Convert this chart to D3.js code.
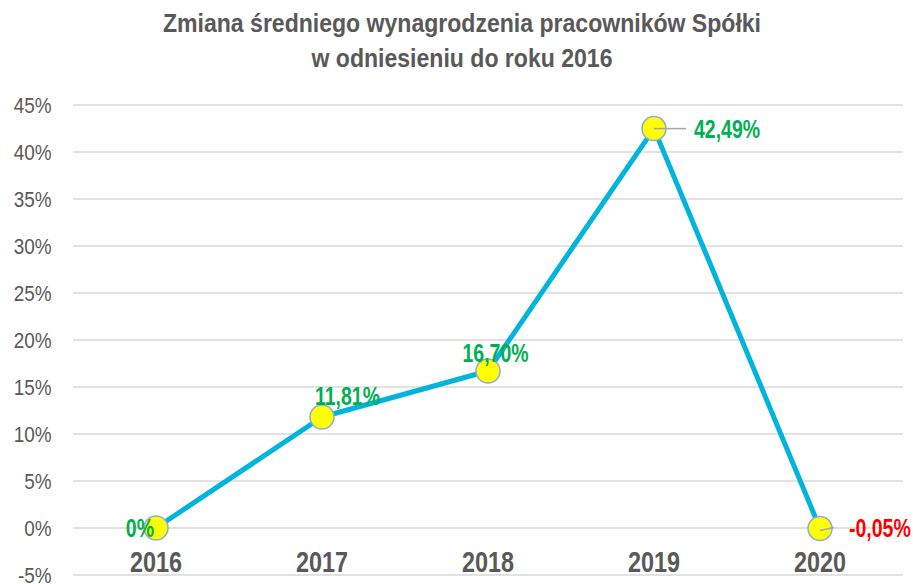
<!DOCTYPE html>
<html lang="pl">
<head>
<meta charset="UTF-8">
<title>Zmiana średniego wynagrodzenia</title>
<script src="https://d3js.org/d3.v7.min.js"></script>
<style>
  body { margin: 0; background: #fff; }
  text { font-family: "Liberation Sans", Arial, sans-serif; }
</style>
</head>
<body>
<svg width="913" height="584"></svg>
<script>
// data
var years = ["2016", "2017", "2018", "2019", "2020"];
var values = [0, 0.1181, 0.1670, 0.4249, -0.0005];
var labels = ["0%", "11,81%", "16,70%", "42,49%", "-0,05%"];
var yTicks = [-0.05, 0, 0.05, 0.10, 0.15, 0.20, 0.25, 0.30, 0.35, 0.40, 0.45];

var svg = d3.select("svg");

var x = d3.scaleBand().domain(years).range([73, 903]);
var y = d3.scaleLinear().domain([-0.05, 0.45]).range([575, 105]);

// text in the original is a bit condensed, so squeeze it horizontally
function squeezed(parent, px, py, sx) {
    return parent.append("text")
        .attr("transform", "translate(" + px + "," + py + ") scale(" + sx + ",1)");
}

// title
squeezed(svg, 462, 32, 0.87)
    .attr("text-anchor", "middle")
    .attr("font-size", "26.5px")
    .attr("font-weight", "bold")
    .attr("fill", "#595959")
    .text("Zmiana średniego wynagrodzenia pracowników Spółki");
squeezed(svg, 462, 67, 0.87)
    .attr("text-anchor", "middle")
    .attr("font-size", "26.5px")
    .attr("font-weight", "bold")
    .attr("fill", "#595959")
    .text("w odniesieniu do roku 2016");

// gridlines
svg.append("g").selectAll("line")
    .data(yTicks)
    .enter().append("line")
    .attr("x1", 73).attr("x2", 903)
    .attr("y1", function(d) { return y(d); })
    .attr("y2", function(d) { return y(d); })
    .attr("stroke", "#d9d9d9")
    .attr("stroke-width", 1.5);

// y axis labels
var yAxis = svg.append("g")
    .attr("transform", "translate(62,0)")
    .call(d3.axisLeft(y).tickValues(yTicks).tickSize(0).tickPadding(12)
        .tickFormat(function(d) { return Math.round(d * 100) + "%"; }));
yAxis.select(".domain").remove();
yAxis.selectAll("text")
    .attr("transform", "scale(0.86,1)")
    .attr("font-size", "22px")
    .attr("font-family", "Liberation Sans, Arial, sans-serif")
    .attr("fill", "#595959");

// x axis labels
var xAxis = svg.append("g")
    .attr("transform", "translate(0,572)")
    .call(d3.axisBottom(x).tickSize(0));
xAxis.select(".domain").remove();
xAxis.selectAll("text")
    .attr("y", 0)
    .attr("dy", null)
    .attr("transform", "scale(0.78,1)")
    .attr("font-size", "30px")
    .attr("font-weight", "bold")
    .attr("font-family", "Liberation Sans, Arial, sans-serif")
    .attr("fill", "#595959");

var cx = function(i) { return x(years[i]) + x.bandwidth() / 2; };

// line
var line = d3.line()
    .x(function(d, i) { return cx(i); })
    .y(function(d) { return y(d); });

svg.append("path")
    .datum(values)
    .attr("d", line)
    .attr("fill", "none")
    .attr("stroke", "#00B4DC")
    .attr("stroke-width", 5)
    .attr("stroke-linejoin", "round");

// markers
svg.append("g").selectAll("circle")
    .data(values)
    .enter().append("circle")
    .attr("cx", function(d, i) { return cx(i); })
    .attr("cy", function(d) { return y(d); })
    .attr("r", 12)
    .attr("fill", "#FFFF00")
    .attr("stroke", "#8FAADC")
    .attr("stroke-width", 1.5);

// leader lines
svg.append("line")
    .attr("x1", cx(3)).attr("y1", y(values[3]))
    .attr("x2", cx(3) + 32).attr("y2", y(values[3]))
    .attr("stroke", "#a6a6a6").attr("stroke-width", 1.5);
svg.append("line")
    .attr("x1", cx(4)).attr("y1", y(values[4]) + 2)
    .attr("x2", cx(4) + 14).attr("y2", y(values[4]) - 1)
    .attr("stroke", "#a6a6a6").attr("stroke-width", 1.5);

// data labels
var offsets = [
    { dx: -2, dy: 9, anchor: "end" },
    { dx: 25.5, dy: -12, anchor: "middle" },
    { dx: 7.5, dy: -9, anchor: "middle" },
    { dx: 40, dy: 9.5, anchor: "start" },
    { dx: 29, dy: 8.5, anchor: "start" }
];

var lbl = svg.append("g");
values.forEach(function(d, i) {
    squeezed(lbl, cx(i) + offsets[i].dx, y(d) + offsets[i].dy, 0.78)
        .attr("text-anchor", offsets[i].anchor)
        .attr("font-size", "25px")
        .attr("font-weight", "bold")
        .attr("fill", d < 0 ? "#FF0000" : "#00B050")
        .text(labels[i]);
});
</script>
</body>
</html>
